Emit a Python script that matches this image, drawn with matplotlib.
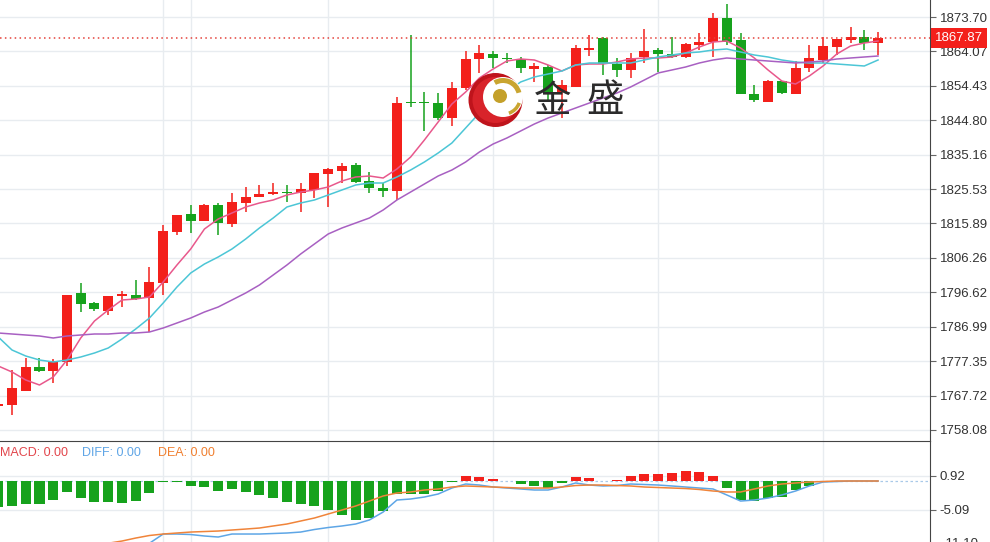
import numpy as np
import matplotlib.pyplot as plt
from matplotlib.patches import Circle, Wedge
from matplotlib.transforms import blended_transform_factory

plt.rcParams['font.family'] = ['Liberation Sans', 'DejaVu Sans']

# candles (first one is cut by the left edge)
opens = [1764.78, 1765.06, 1768.98, 1775.70, 1774.58, 1777.10, 1796.42, 1793.62, 1791.38, 1795.58,
         1795.86, 1795.02, 1799.22, 1813.50, 1818.54, 1816.58, 1821.06, 1815.74, 1821.62, 1823.30,
         1824.14, 1824.70, 1824.42, 1825.26, 1829.74, 1830.58, 1832.26, 1827.78, 1825.82, 1824.98,
         1849.90, 1849.90, 1849.62, 1845.42, 1853.82, 1861.94, 1863.34, 1862.22, 1861.94, 1859.14,
         1859.70, 1852.70, 1854.10, 1864.46, 1867.82, 1860.54, 1858.86, 1862.50, 1864.46, 1863.34,
         1862.50, 1865.86, 1866.70, 1873.42, 1867.26, 1852.14, 1849.90, 1855.78, 1852.14, 1859.42,
         1861.66, 1865.30, 1867.26, 1868.10, 1866.42]
highs = [1765.62, 1774.86, 1778.22, 1778.22, 1777.94, 1795.86, 1799.22, 1793.90, 1795.58, 1796.98,
         1800.06, 1803.70, 1815.46, 1818.26, 1821.06, 1821.34, 1821.62, 1824.42, 1826.10, 1826.66,
         1827.22, 1826.66, 1827.22, 1830.02, 1831.42, 1832.82, 1832.82, 1830.30, 1827.22, 1851.30,
         1868.66, 1852.70, 1852.42, 1855.50, 1864.18, 1865.86, 1864.18, 1863.62, 1862.50, 1860.82,
         1860.26, 1856.06, 1865.86, 1868.66, 1868.10, 1862.22, 1863.62, 1870.34, 1865.02, 1868.10,
         1866.42, 1869.22, 1874.82, 1877.34, 1869.22, 1854.66, 1856.06, 1855.78, 1861.38, 1865.86,
         1868.10, 1867.54, 1870.90, 1870.06, 1869.50]
lows = [1764.50, 1762.26, 1768.98, 1774.30, 1771.22, 1775.98, 1791.10, 1791.38, 1790.26, 1792.50,
        1794.46, 1785.50, 1795.86, 1812.66, 1813.22, 1816.58, 1812.66, 1814.90, 1819.10, 1823.30,
        1823.86, 1821.90, 1819.10, 1823.02, 1820.50, 1827.22, 1827.22, 1824.42, 1823.30, 1822.46,
        1848.50, 1841.78, 1844.86, 1843.18, 1853.26, 1858.02, 1859.42, 1860.82, 1858.02, 1855.50,
        1850.46, 1845.42, 1854.10, 1862.78, 1857.46, 1856.90, 1856.62, 1860.82, 1858.30, 1862.22,
        1862.22, 1864.46, 1862.50, 1865.86, 1852.14, 1849.90, 1849.90, 1852.14, 1852.14, 1858.30,
        1860.82, 1863.06, 1866.42, 1864.46, 1863.06]
closes = [1765.34, 1769.82, 1775.70, 1774.58, 1777.38, 1795.86, 1793.34, 1791.94, 1795.58, 1796.14,
          1794.74, 1799.50, 1813.78, 1818.26, 1816.58, 1821.06, 1816.02, 1821.90, 1823.30, 1824.14,
          1824.70, 1824.42, 1825.54, 1830.02, 1831.14, 1831.98, 1827.50, 1825.82, 1824.98, 1849.62,
          1849.62, 1849.62, 1845.42, 1853.82, 1861.94, 1863.62, 1862.22, 1861.94, 1859.42, 1859.98,
          1852.70, 1854.66, 1865.02, 1865.02, 1860.54, 1858.86, 1862.22, 1864.18, 1863.34, 1862.50,
          1866.14, 1866.70, 1873.42, 1866.70, 1852.14, 1850.46, 1855.78, 1852.42, 1859.42, 1862.22,
          1865.58, 1867.54, 1868.10, 1866.42, 1867.87]

ma5 = [1775.98, 1774.30, 1772.06, 1770.66, 1772.90, 1777.66, 1783.82, 1788.58, 1791.66, 1794.46,
       1794.74, 1795.30, 1799.50, 1804.26, 1808.74, 1814.34, 1817.14, 1818.82, 1820.50, 1821.62,
       1822.46, 1823.86, 1824.70, 1825.26, 1826.10, 1827.78, 1828.90, 1829.18, 1828.62, 1831.14,
       1834.50, 1839.26, 1844.30, 1849.34, 1852.70, 1856.62, 1859.14, 1861.38, 1861.94, 1861.66,
       1860.26, 1858.58, 1860.26, 1860.54, 1860.54, 1861.10, 1861.94, 1862.22, 1862.22, 1862.50,
       1863.62, 1865.30, 1866.70, 1866.98, 1865.02, 1862.22, 1858.86, 1855.78, 1854.94, 1857.18,
       1859.98, 1863.34, 1865.58, 1866.42, 1866.98]
ma10 = [1784.10, 1780.46, 1778.78, 1777.66, 1777.10, 1777.66, 1778.50, 1779.62, 1781.02, 1783.54,
        1786.34, 1789.42, 1793.62, 1798.10, 1802.02, 1804.54, 1806.50, 1808.74, 1811.54, 1814.62,
        1817.42, 1820.50, 1821.62, 1822.46, 1823.86, 1825.26, 1826.66, 1827.22, 1827.22, 1828.90,
        1830.86, 1833.10, 1835.62, 1838.42, 1842.62, 1846.82, 1849.90, 1852.70, 1855.50, 1856.90,
        1857.74, 1858.58, 1860.26, 1860.82, 1860.82, 1860.82, 1860.82, 1861.66, 1862.50, 1863.06,
        1863.62, 1863.90, 1864.46, 1864.74, 1863.90, 1863.06, 1862.50, 1861.66, 1861.10, 1860.82,
        1860.82, 1860.54, 1860.26, 1859.98, 1861.66]
ma20 = [1785.22, 1784.94, 1784.66, 1784.38, 1783.82, 1784.38, 1784.66, 1784.94, 1784.94, 1785.22,
        1785.22, 1785.50, 1786.62, 1788.02, 1789.42, 1791.10, 1792.50, 1794.46, 1796.42, 1798.66,
        1801.46, 1804.26, 1807.34, 1810.14, 1812.94, 1814.62, 1816.02, 1817.42, 1819.66, 1822.46,
        1824.70, 1826.94, 1829.18, 1830.86, 1833.10, 1835.90, 1838.14, 1839.82, 1841.78, 1843.74,
        1845.42, 1846.82, 1848.22, 1849.62, 1851.02, 1852.42, 1854.10, 1856.06, 1858.02, 1858.86,
        1859.70, 1860.82, 1861.66, 1862.22, 1861.94, 1861.66, 1861.38, 1861.10, 1860.82, 1861.10,
        1861.38, 1861.94, 1862.22, 1862.50, 1862.78]

macd = [-4.60, -4.42, -4.07, -4.07, -3.36, -1.94, -3.01, -3.71, -3.71, -3.89,
        -3.54, -2.12, -0.18, -0.18, -0.88, -1.06, -1.77, -1.41, -1.94, -2.47,
        -3.01, -3.71, -4.07, -4.42, -5.13, -6.01, -6.89, -6.54, -5.30, -2.30,
        -2.30, -2.30, -1.77, -0.09, 0.88, 0.71, 0.44, -0.05, -0.53, -0.88,
        -1.24, -0.35, 0.71, 0.53, 0.05, 0.18, 0.88, 1.24, 1.24, 1.41,
        1.77, 1.59, 0.88, -1.24, -3.36, -3.54, -3.01, -2.83, -1.59, -0.88,
        -0.18, -0.05, 0.0, 0.0, 0.0]
nan = np.nan
dea = [nan, nan, nan, nan, nan, nan, nan, nan, -11.00, -10.61,
       -10.08, -9.63, -9.37, -9.19, -9.02, -8.93, -8.84, -8.66, -8.49, -8.31,
       -7.95, -7.60, -7.07, -6.54, -5.83, -5.13, -4.42, -3.54, -2.65, -2.12,
       -1.94, -1.59, -1.41, -1.06, -0.88, -0.97, -1.06, -1.15, -1.24, -1.24,
       -1.24, -1.06, -0.80, -0.71, -0.71, -0.80, -0.88, -1.06, -1.15, -1.24,
       -1.33, -1.50, -1.77, -1.94, -1.94, -1.41, -0.88, -0.53, -0.35, -0.18,
       -0.09, 0.0, 0.0, 0.0, 0.0]
diff = [nan, nan, nan, nan, nan, nan, nan, nan, nan, nan,
        nan, -11.00, -9.37, -9.37, -9.46, -9.72, -9.90, -9.37, -9.37, -9.37,
        -9.28, -9.19, -9.02, -8.57, -8.22, -7.95, -7.60, -6.89, -5.48, -3.36,
        -3.18, -2.83, -2.30, -1.24, -0.53, -0.71, -1.06, -1.24, -1.41, -1.59,
        -1.59, -1.06, -0.35, -0.71, -0.88, -0.80, -0.53, -0.62, -0.71, -0.88,
        -1.06, -1.24, -1.41, -2.47, -3.54, -3.36, -3.01, -2.47, -1.77, -0.88,
        -0.18, -0.09, 0.0, 0.0, 0.0]

price_ticks = [1873.70, 1864.07, 1854.43, 1844.80, 1835.16, 1825.53, 1815.89,
               1806.26, 1796.62, 1786.99, 1777.35, 1767.72, 1758.08]
macd_ticks = [0.92, -5.09]
last_price = 1867.87
vgrid = [12, 14, 24, 36, 48, 60]

RED = '#f3201b'
GREEN = '#16a21c'
GRID = '#e8ecf0'
AXC = '#444444'

o = np.array(opens)
c = np.array(closes)
x = np.arange(len(o))
cols = np.where(c >= o, RED, GREEN)

fig = plt.figure(figsize=(9.9, 5.42), dpi=100)
ax = fig.add_axes([0, 101 / 542, 930 / 990, 441 / 542])
mx = fig.add_axes([0, 0, 930 / 990, 101 / 542])

# price panel
ax.vlines(x, lows, highs, colors=cols, lw=1.1, zorder=3)
ax.bar(x, np.maximum(np.abs(c - o), 0.4), bottom=np.minimum(o, c), width=0.73,
       color=cols, linewidth=0, zorder=3)
ax.plot(x, ma5, color='#e8588c', lw=1.1, zorder=4)
ax.plot(x, ma10, color='#4cc6d6', lw=1.1, zorder=4)
ax.plot(x, ma20, color='#a860c2', lw=1.1, zorder=4)
ax.axhline(last_price, color='#e4413a', lw=1.1, ls=(0, (1, 2.2)), zorder=5)

ax.set_xlim(0.127, 67.78)
ax.set_ylim(1754.98, 1878.46)
ax.yaxis.tick_right()
ax.set_yticks(price_ticks)
ax.set_yticklabels(['%.2f' % v for v in price_ticks])
ax.set_xticks(vgrid)
ax.tick_params(axis='x', length=0, labelbottom=False)
ax.tick_params(axis='y', length=4, width=0.8, color='#666', pad=3,
               labelsize=9.5, labelcolor='#333333')
ax.grid(True, color=GRID, lw=1)
ax.set_axisbelow(True)
for s in ['left', 'top', 'bottom']:
    ax.spines[s].set_visible(False)
ax.spines['right'].set_color(AXC)

trans = blended_transform_factory(ax.transAxes, ax.transData)
ax.text(1.0055, last_price, '%.2f' % last_price, transform=trans, ha='left', va='center',
        color='white', fontsize=9.5, clip_on=False, zorder=10,
        bbox=dict(boxstyle='square,pad=0.28', fc=RED, ec='none'))

# macd panel
mcols = np.where(np.array(macd) >= 0, RED, GREEN)
mx.axhline(0, color='#a9c9e8', lw=0.9, ls=(0, (2, 2)), zorder=1)
mx.bar(x, macd, width=0.73, color=mcols, linewidth=0, zorder=2)
mx.plot(x, diff, color='#5ea6e6', lw=1.1, zorder=3)
mx.plot(x, dea, color='#f0843a', lw=1.1, zorder=3)
mx.set_xlim(0.127, 67.78)
mx.set_ylim(-10.78, 7.07)
mx.yaxis.tick_right()
mx.set_yticks(macd_ticks)
mx.set_yticklabels(['%.2f' % v for v in macd_ticks])
mx.set_xticks(vgrid)
mx.tick_params(axis='x', length=0, labelbottom=False)
mx.tick_params(axis='y', length=4, width=0.8, color='#666', pad=3,
               labelsize=9.5, labelcolor='#333333')
mx.grid(True, color=GRID, lw=1)
mx.set_axisbelow(True)
for s in ['left', 'bottom']:
    mx.spines[s].set_visible(False)
mx.spines['right'].set_color(AXC)
mx.spines['top'].set_color(AXC)
mtrans = blended_transform_factory(mx.transAxes, mx.transData)
mx.text(1.0125, -11.10, '-11.10', transform=mtrans, ha='left', va='center',
        color='#333333', fontsize=9.5, clip_on=False)

ty = 1 - 453 / 542
fig.text(0.5 / 990, ty, 'MACD: 0.00', color='#e2454b', fontsize=9, va='center')
fig.text(82 / 990, ty, 'DIFF: 0.00', color='#5fa5e6', fontsize=9, va='center')
fig.text(158 / 990, ty, 'DEA: 0.00', color='#f07f2f', fontsize=9, va='center')

# watermark logo
lx = fig.add_axes([0, 0, 1, 1])
lx.set_xlim(0, 990)
lx.set_ylim(542, 0)
lx.axis('off')
gold = '#c9a530'
lx.add_patch(Circle((495.5, 100), 27, fc='#bf141c', ec='none'))
lx.add_patch(Circle((495.5, 100), 23, fc='#d8232a', ec='none'))
lx.add_patch(Circle((503, 97), 20, fc='white', ec='none'))
lx.add_patch(Wedge((503, 97), 19, -120, -15, width=5, fc=gold, ec='none'))
lx.add_patch(Wedge((503, 97), 19, 20, 70, width=3.5, fc=gold, ec='none'))
lx.add_patch(Circle((500, 96), 7, fc='#c4a02a', ec='none'))
lx.text(553, 101, '金', fontsize=27, color='#2b2b2b', ha='center', va='center',
        family=['Noto Sans CJK SC', 'DejaVu Sans'])
lx.text(605, 101, '盛', fontsize=27, color='#2b2b2b', ha='center', va='center',
        family=['Noto Sans CJK SC', 'DejaVu Sans'])

fig.savefig('out.png', dpi=100)
